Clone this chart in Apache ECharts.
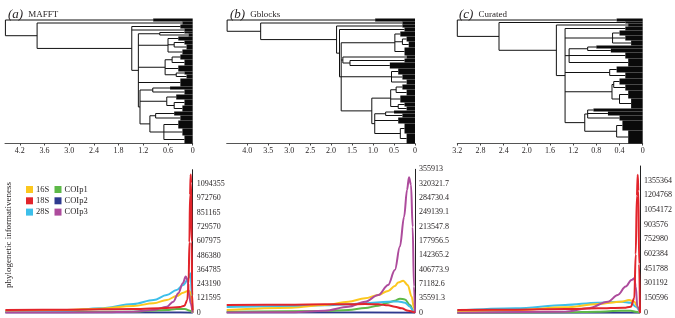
<!DOCTYPE html>
<html>
<head>
<meta charset="utf-8">
<script src="https://cdn.jsdelivr.net/npm/echarts@6.0.0/dist/echarts.min.js"></script>
<style>
  html, body { margin: 0; padding: 0; background: #fff; }
  #chart { width: 675px; height: 318px; }
</style>
</head>
<body>
<div id="chart"></div>
<script>
// trees: [height, child, child, ...]; a child [height, n] with a number is a collapsed clade of n tips
const treeA = [4.55,
  [0.96, 3],
  [3.78,
    [0.25, 3],
    [1.48,
      [0.3, 4],
      [0.2, 3],
      [1.32,
        [0.8, [0.2, 2], [0.1, 3]],
        [0.6, [0.35, 4], [0.45, [0.2, 4], [0.15, 5]], [0.25, 5]],
        [0.67, [0.5, [0.3, 5], [0.2, 6]], [0.35, 6], [0.4, [0.2, 3], [0.15, 4]]],
        [0.3, 8],
        [1.28,
          [0.97, [0.55, 3], [0.2, 5]],
          [0.63, [0.4, 5], [0.45, [0.2, 6], [0.25, 6]]],
          [1.04, [0.9, [0.45, 4], [0.3, 5]], [0.7, [0.35, 8], [0.25, 7], [0.2, 8]]]
        ]
      ]
    ]
  ]
]

const treeB = [4.48,
  [0.95, 3],
  [3.68,
    [0.3, 3],
    [1.87,
      [0.3, 3],
      [1.8,
        [0.25, 4],
        [1.76,
          [0.48, [0.35, 5], [0.3, [0.2, 5], [0.15, 6]], [0.25, 8]],
          [1.72, [0.2, 3], [1.55, [0.25, 4], [0.6, 6]]],
          [0.56, [0.4, 6], [0.3, 5], [0.2, 5]],
          [1.03,
            [0.58, [0.45, [0.3, 5], [0.2, 6]], [0.35, 7], [0.4, [0.25, 4], [0.2, 4]]],
            [0.96, [0.7, [0.5, 3], [0.3, 4]], [0.4, 6], [0.35, [0.25, 10], [0.2, 10]]]
          ]
        ]
      ]
    ]
  ]
]

const treeC = [3.2,
  [0.45, 3],
  [2.48,
    [0.3, 2],
    [1.49,
      [0.25, 3],
      [1.34,
        [0.3, 4],
        [0.52, [0.4, 5], [0.3, 5], [0.2, 5]],
        [1.27, [0.95, [0.8, 3], [0.55, 4]], [0.3, 6], [0.25, 8]],
        [0.57, [0.45, 6], [0.3, 6]],
        [0.53, [0.5, [0.4, 6], [0.3, 6]], [0.4, [0.25, 8], [0.2, 10]]],
        [1.0, [0.95, [0.85, 3], [0.6, 4], [0.4, 5]], [0.45, [0.35, 10], [0.25, 13]]]
      ]
    ]
  ]
]

const treeTicksA = [0, 0.6, 1.2, 1.8, 2.4, 3.0, 3.6, 4.2]
const treeTicksB = [0, 0.5, 1.0, 1.5, 2.0, 2.5, 3.0, 3.5, 4.0]
const treeTicksC = [0, 0.4, 0.8, 1.2, 1.6, 2.0, 2.4, 2.8, 3.2]

// informativeness profiles: [time, value]
const a16S = [[4.55, 17000], [3.06, 22700], [2.25, 34000], [1.44, 57000], [0.95, 80000], [0.63, 108000], [0.39, 142000], [0.23, 170000], [0.1, 187000], [0.065, 179000], [0.03, 108000], [0, 0]]
const a18S = [[4.55, 22700], [3.06, 25600], [1.44, 31000], [0.63, 40000], [0.31, 48000], [0.2, 60000], [0.13, 110000], [0.1, 250000], [0.08, 600000], [0.065, 1000000], [0.05, 1175000], [0.038, 1100000], [0.025, 600000], [0.012, 150000], [0, 20000]]
const a28S = [[4.55, 8500], [3.06, 17000], [2.25, 37000], [1.44, 74000], [0.95, 108000], [0.63, 150000], [0.39, 193000], [0.23, 236000], [0.1, 293000], [0.05, 335000], [0.016, 108000], [0, 0]]
const aCOIp1 = [[4.55, 5700], [1.44, 8500], [0.63, 22700], [0.39, 31000], [0.19, 31000], [0.065, 17000], [0, 0]]
const aCOIp2 = [[4.55, 1000], [2.0, 1000], [0.5, 1000], [0, 0]]
const aCOIp3 = [[4.55, 1500], [2.25, 3000], [1.44, 8500], [0.95, 23000], [0.63, 51000], [0.47, 94000], [0.35, 165000], [0.24, 250000], [0.17, 307000], [0.13, 278000], [0.09, 165000], [0.05, 80000], [0, 0]]

const b16S = [[4.49, 6600], [2.94, 12400], [2.15, 19000], [1.59, 27300], [1.19, 35600], [0.875, 44000], [0.64, 54000], [0.48, 66000], [0.4, 75000], [0.28, 79500], [0.175, 68700], [0.08, 40000], [0.024, 10800], [0, 0]]
const b18S = [[4.49, 19000], [2.94, 19900], [2.15, 20700], [1.59, 20700], [1.19, 21500], [0.875, 20700], [0.64, 18200], [0.48, 15000], [0.32, 10800], [0.16, 5000], [0, 0]]
const b28S = [[4.49, 14000], [2.94, 16500], [2.15, 18200], [1.59, 20700], [1.19, 23200], [0.64, 27300], [0.4, 28000], [0.24, 24800], [0.12, 15000], [0.04, 5000], [0, 0]]
const bCOIp1 = [[4.49, 2500], [2.15, 4100], [1.59, 6600], [1.19, 11600], [0.875, 17400], [0.64, 24800], [0.48, 29800], [0.36, 34800], [0.24, 33000], [0.12, 19000], [0.04, 5000], [0, 0]]
const bCOIp2 = [[4.49, 500], [2.0, 500], [0, 0]]
const bCOIp3 = [[4.49, 500], [2.94, 1000], [2.15, 5000], [1.59, 15000], [1.19, 27000], [0.875, 44000], [0.64, 69000], [0.48, 106000], [0.36, 164000], [0.26, 238000], [0.19, 305000], [0.143, 336000], [0.095, 317000], [0.056, 213000], [0.024, 65000], [0, 0]]

const c16S = [[3.2, 10000], [2.18, 27000], [1.31, 55000], [0.74, 89000], [0.33, 113000], [0.19, 130000], [0.1, 113000], [0.046, 62000], [0, 0]]
const c18S = [[3.2, 27000], [2.18, 31000], [1.31, 38000], [0.74, 45000], [0.28, 51000], [0.16, 62000], [0.1, 150000], [0.075, 600000], [0.055, 1200000], [0.04, 1417000], [0.028, 1250000], [0.015, 500000], [0, 0]]
const c28S = [[3.2, 20000], [2.18, 45000], [1.31, 79000], [0.74, 103000], [0.33, 113000], [0.16, 103000], [0.075, 62000], [0, 0]]
const cCOIp1 = [[3.2, 3000], [1.31, 3400], [0.74, 10000], [0.33, 20000], [0.16, 20000], [0.075, 10000], [0, 0]]
const cCOIp2 = [[3.2, 500], [1.5, 500], [0, 0]]
const cCOIp3 = [[3.2, 500], [1.31, 10000], [0.91, 45000], [0.56, 113000], [0.39, 182000], [0.25, 268000], [0.15, 336000], [0.1, 353000], [0.075, 268000], [0.046, 62000], [0, 0]]

const yLabelsA = ['0', '121595', '243190', '364785', '486380', '607975', '729570', '851165', '972760', '1094355', '']
const yLabelsB = ['0', '35591.3', '71182.6', '406773.9', '142365.2', '177956.5', '213547.8', '249139.1', '284730.4', '320321.7', '355913']
const yLabelsC = ['0', '150596', '301192', '451788', '602384', '752980', '903576', '1054172', '1204768', '1355364', '']

const genes = ['16S', '18S', '28S', 'COIp1', 'COIp2', 'COIp3']
const geneColors = {
  '16S': '#FCC71E', '18S': '#E2242B', '28S': '#3DBFEA',
  COIp1: '#5DB948', COIp2: '#2E3A8F', COIp3: '#AD4B9C'
}
const drawOrder = ['COIp2', 'COIp1', '28S', '16S', 'COIp3', '18S']

const serif = 'Liberation Serif'
const ink = '#231F20'

function layoutTree(node, rows, out) {
  if (typeof node[1] === 'number') {
    const y0 = rows.next
    rows.next += node[1]
    out.push([node[0], y0, 0, y0 + node[1], 1])
    return { y: y0 + node[1] / 2, h: node[0] }
  }
  const h = node[0]
  const kids = node.slice(1).map(c => layoutTree(c, rows, out))
  kids.forEach(k => out.push([h, k.y, k.h, k.y, 0]))
  out.push([h, kids[0].y, h, kids[kids.length - 1].y, 0])
  return { y: (kids[0].y + kids[kids.length - 1].y) / 2, h }
}

function treeSegments(tree) {
  const out = []
  layoutTree(tree, { next: 0 }, out)
  return out
}

function renderBranch(params, api) {
  const p1 = api.coord([api.value(0), api.value(1)])
  const p2 = api.coord([api.value(2), api.value(3)])
  if (api.value(4) === 1) {
    return {
      type: 'rect',
      shape: { x: p1[0], y: p1[1], width: p2[0] - p1[0], height: p2[1] - p1[1] },
      style: { fill: '#0a0a0a' }
    }
  }
  return {
    type: 'line',
    shape: { x1: p1[0], y1: p1[1], x2: p2[0], y2: p2[1] },
    style: { stroke: '#111', lineWidth: 1 }
  }
}

const panels = [
  { tree: treeA, max: 4.56, ticks: treeTicksA, left: 5, width: 187.7, yMax: 1215950, yLabels: yLabelsA, bTop: 169.7, bH: 143,
    lines: { '16S': a16S, '18S': a18S, '28S': a28S, COIp1: aCOIp1, COIp2: aCOIp2, COIp3: aCOIp3 } },
  { tree: treeB, max: 4.49, ticks: treeTicksB, left: 226.7, width: 188.3, yMax: 355913, yLabels: yLabelsB, bTop: 169.3, bH: 143.4,
    lines: { '16S': b16S, '18S': b18S, '28S': b28S, COIp1: bCOIp1, COIp2: bCOIp2, COIp3: bCOIp3 } },
  { tree: treeC, max: 3.2, ticks: treeTicksC, left: 457.3, width: 185.4, yMax: 1505960, yLabels: yLabelsC, bTop: 166, bH: 146.7,
    lines: { '16S': c16S, '18S': c18S, '28S': c28S, COIp1: cCOIp1, COIp2: cCOIp2, COIp3: cCOIp3 } }
]

const grid = [], xAxis = [], yAxis = [], series = []

panels.forEach((p, i) => {
  // tree
  grid.push({ left: p.left, top: 18.5, width: p.width, height: 125 })
  xAxis.push({
    type: 'value', gridIndex: i, min: 0, max: p.max, inverse: true, position: 'bottom',
    axisLine: { onZero: false, lineStyle: { color: '#555', width: 1 } },
    axisTick: { length: 2, lineStyle: { color: '#444' }, customValues: p.ticks },
    axisLabel: {
      customValues: p.ticks, fontFamily: serif, fontSize: 8, color: ink, margin: 3,
      formatter: v => (v === 0 ? '0' : v.toFixed(1))
    },
    splitLine: { show: false }
  })
  yAxis.push({ type: 'value', gridIndex: i, min: 0, max: 125, inverse: true, show: false })
  series.push({
    type: 'custom', name: 'tree' + i, xAxisIndex: i, yAxisIndex: i,
    renderItem: renderBranch, data: treeSegments(p.tree),
    encode: { x: [0, 2], y: [1, 3] }, silent: true
  })
})

panels.forEach((p, i) => {
  const gi = i + 3
  const step = p.yMax / 10
  const tickVals = p.yLabels.map((_, k) => k * step)
  grid.push({ left: p.left, top: p.bTop, width: p.width, height: p.bH })
  xAxis.push({ type: 'value', gridIndex: gi, min: 0, max: p.max, inverse: true, show: false })
  yAxis.push({
    type: 'value', gridIndex: gi, min: 0, max: p.yMax, position: 'right',
    axisLine: { show: true, lineStyle: { color: '#222', width: 1 } },
    axisTick: { show: false },
    splitLine: { show: false },
    axisLabel: {
      customValues: tickVals, fontFamily: serif, fontSize: 8, color: ink, margin: 4,
      formatter: v => {
        const k = tickVals.findIndex(t => Math.abs(t - v) < step / 100)
        return k < 0 ? '' : p.yLabels[k]
      }
    }
  })
  drawOrder.forEach(g => {
    series.push({
      type: 'line', name: g, xAxisIndex: gi, yAxisIndex: gi,
      data: p.lines[g], smooth: 0.35, smoothMonotone: 'x', showSymbol: false,
      lineStyle: { color: geneColors[g], width: 2 }, itemStyle: { color: geneColors[g] },
      silent: true
    })
  })
})

const titleRich = {
  i: { fontFamily: serif, fontStyle: 'italic', fontWeight: 'normal', fontSize: 13, color: ink },
  n: { fontFamily: serif, fontWeight: 'normal', fontSize: 9, color: ink }
}

const legendBase = {
  orient: 'vertical', icon: 'rect', itemWidth: 7, itemHeight: 7, itemGap: 2.3,
  textStyle: { fontFamily: serif, fontSize: 8.5, color: ink, lineHeight: 7, padding: [0, 0, 0, -2] },
  selectedMode: false
}

const chart = echarts.init(document.getElementById('chart'), null, { renderer: 'canvas' })
chart.setOption({
  animation: false,
  backgroundColor: '#fff',
  color: genes.map(g => geneColors[g]),
  title: [
    { text: '{i|(a)} {n|MAFFT}', left: 3, top: 1, textStyle: { fontWeight: 'normal', rich: titleRich } },
    { text: '{i|(b)} {n|Gblocks}', left: 225, top: 1, textStyle: { fontWeight: 'normal', rich: titleRich } },
    { text: '{i|(c)} {n|Curated}', left: 454, top: 1, textStyle: { fontWeight: 'normal', rich: titleRich } }
  ],
  legend: [
    Object.assign({ data: ['16S', '18S', '28S'], left: 21, top: 180 }, legendBase),
    Object.assign({ data: ['COIp1', 'COIp2', 'COIp3'], left: 49.5, top: 180 }, legendBase)
  ],
  graphic: [{
    type: 'text', x: 8.5, y: 235, rotation: Math.PI / 2,
    style: {
      text: 'phylogenetic informativeness', fontFamily: serif, fontSize: 9, fill: ink,
      align: 'center', verticalAlign: 'middle'
    }
  }],
  grid, xAxis, yAxis, series
})
</script>
</body>
</html>
